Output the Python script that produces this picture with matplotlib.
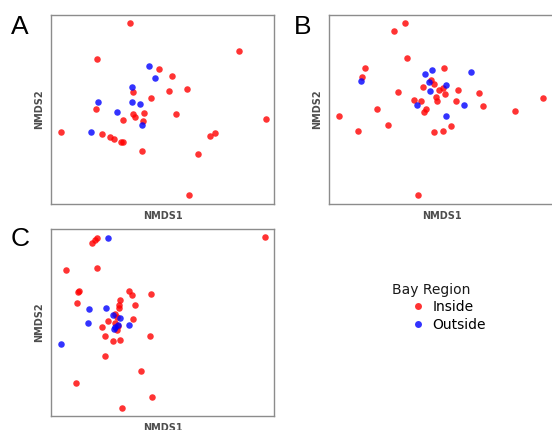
import matplotlib
matplotlib.use("Agg")
import matplotlib.pyplot as plt
from matplotlib.lines import Line2D

# NMDS scores (arbitrary units, y grows downward)
# panel A
a_in_x = [388, 716, 289, 477, 517, 398, 508, 560, 452, 287, 528, 398, 403, 430,
          369, 429, 181, 304, 329, 341, 362, 369, 797, 645, 629, 594, 426, 566]
a_in_y = [69, 151, 177, 207, 227, 274, 273, 265, 293, 325, 341, 341, 350, 339,
          361, 364, 397, 403, 411, 416, 425, 427, 357, 399, 409, 461, 453, 586]
a_out_x = [446, 463, 394, 293, 394, 418, 349, 424, 273]
a_out_y = [198, 233, 259, 306, 304, 311, 336, 374, 397]

# panel B
b_in_x = [375, 342, 380, 254, 246, 492, 452, 463, 428, 355, 478, 488, 495, 533,
          596, 401, 422, 469, 470, 527, 608, 437, 432, 290, 705, 791, 176, 324,
          234, 514, 490, 462, 415]
b_in_y = [69, 93, 172, 203, 231, 203, 240, 252, 259, 274, 269, 263, 280, 270,
          278, 299, 303, 291, 302, 302, 317, 327, 336, 327, 332, 293, 349, 375,
          392, 377, 392, 397, 586]
b_out_x = [434, 456, 572, 243, 446, 497, 451, 410, 552, 498]
b_out_y = [222, 209, 215, 241, 246, 254, 271, 315, 313, 347]

# panel C
c_in_x = [796, 291, 284, 276, 197, 289, 235, 233, 387, 396, 451, 358, 231, 357,
          405, 356, 344, 349, 324, 397, 306, 344, 352, 349, 315, 339, 358, 448,
          315, 422, 227, 455, 365]
c_in_y = [49, 53, 60, 67, 149, 144, 213, 217, 213, 227, 222, 241, 249, 255,
          255, 266, 282, 293, 305, 297, 323, 311, 320, 332, 350, 366, 361, 349,
          411, 457, 493, 535, 567]
c_out_x = [322, 265, 317, 339, 358, 263, 386, 354, 343, 342, 181]
c_out_y = [53, 269, 265, 287, 295, 310, 317, 318, 322, 329, 373]

RED = "#ff0000"
BLUE = "#0000ff"

fig = plt.figure(figsize=(5.52, 4.30), dpi=100)

panels = [
    ("A", [0.0924, 0.5256, 0.404, 0.4395], (152, 822), (612, 44),
     a_in_x, a_in_y, a_out_x, a_out_y, (20 / 552, 1 - 26.5 / 430)),
    ("B", [0.596, 0.5256, 0.409, 0.4395], (147, 825), (612, 44),
     b_in_x, b_in_y, b_out_x, b_out_y, (302.5 / 552, 1 - 26.5 / 430)),
    ("C", [0.0924, 0.0326, 0.404, 0.4349], (152, 822), (592, 26),
     c_in_x, c_in_y, c_out_x, c_out_y, (20 / 552, 1 - 239 / 430)),
]

for lab, pos, xl, yl, ix, iy, ox, oy, lpos in panels:
    ax = fig.add_axes(pos)
    ax.scatter(ix, iy, s=22, color=RED, alpha=0.8, linewidths=0)
    ax.scatter(ox, oy, s=22, color=BLUE, alpha=0.8, linewidths=0)
    ax.set_xlim(*xl)
    ax.set_ylim(*yl)
    ax.set_xticks([])
    ax.set_yticks([])
    for sp in ax.spines.values():
        sp.set_color("#8c8c8c")
        sp.set_linewidth(1.0)
    ax.set_xlabel("NMDS1", fontsize=7, fontweight="bold", color="#4d4d4d", labelpad=5)
    ax.set_ylabel("NMDS2", fontsize=7, fontweight="bold", color="#4d4d4d", labelpad=5)
    fig.text(lpos[0], lpos[1], lab, fontsize=19, family="Liberation Sans",
             ha="center", va="center")

# legend
fig.text(392 / 552, 1 - 290 / 430, "Bay Region", fontsize=10, color="#1a1a1a",
         ha="left", va="center")
handles = [
    Line2D([], [], marker="o", linestyle="", color=RED, alpha=0.8, markersize=5,
           markeredgewidth=0, label="Inside"),
    Line2D([], [], marker="o", linestyle="", color=BLUE, alpha=0.8, markersize=5,
           markeredgewidth=0, label="Outside"),
]
fig.legend(handles=handles, loc="upper left", bbox_to_anchor=(410 / 552, 1 - 300 / 430),
           frameon=False, fontsize=10, handlelength=1.2, handletextpad=0.4,
           labelspacing=0.3, borderpad=0, borderaxespad=0)

fig.savefig("out.png", dpi=100)
